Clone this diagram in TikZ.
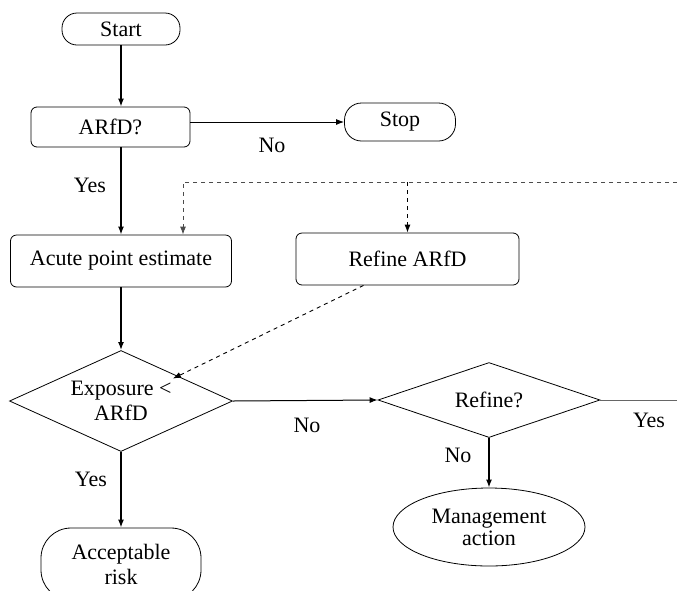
\documentclass[tikz,border=0pt]{standalone}
\usepackage{fontspec}
\setmainfont{Liberation Serif}
\usetikzlibrary{arrows.meta,positioning,shapes.geometric}

\begin{document}
\begin{tikzpicture}[
  x=1pt, y=-1pt,
  every node/.style={font=\fontsize{22}{25}\selectfont},
  term/.style={draw, line width=0.8pt, align=center, inner sep=0pt},
  proc/.style={draw, line width=0.8pt, rounded corners=6pt, align=center, inner sep=0pt},
  dec/.style={draw, line width=0.8pt, diamond, align=center, inner sep=0pt},
  flow/.style={-{Latex[length=8pt,width=6pt]}, line width=1.5pt},
  side/.style={-{Latex[length=8pt,width=6pt]}, line width=1pt},
  back/.style={-{Latex[length=8pt,width=6pt]}, line width=0.9pt, dash pattern=on 4pt off 4pt},
  lbl/.style={inner sep=0pt}
]
\useasboundingbox (0,0) rectangle (677,590);
\clip (0,0) rectangle (677,590);

\node[term, rounded corners=15pt, minimum width=118, minimum height=32] (start) at (121,29) {Start};
\node[proc, minimum width=159, minimum height=40] (arfd) at (110.5,127) {ARfD?};
\node[term, rounded corners=17pt, minimum width=111, minimum height=38] (stop) at (400,122) {Stop};
\node[proc, minimum width=221, minimum height=52] (acute) at (121,261) {Acute point estimate};
\node[proc, minimum width=223, minimum height=52] (refA) at (407.5,259) {Refine ARfD};
\node[dec, aspect=2.2, minimum width=223, minimum height=101] (expo) at (121,401) {Exposure <\\ARfD};
\node[dec, aspect=2.96, minimum width=222, minimum height=75] (refq) at (489,400) {Refine?};
\node[draw, line width=0.8pt, ellipse, align=center, inner sep=0pt, minimum width=192, minimum height=78,
  font=\fontsize{22}{22}\selectfont] (mgmt) at (489,527) {Management\\action};
\node[term, rounded corners=30pt, minimum width=160, minimum height=72] (accept) at (121,564) {Acceptable\\risk};
\coordinate (loop) at (677,182);

% labels
\node[lbl] (noA) at (272,145) {No};
\node[lbl] (yesA) at (90,185) {Yes};
\node[lbl] (noB) at (307,425) {No};
\node[lbl] (yesB) at (91,479) {Yes};
\node[lbl] (noC) at (458,455) {No};
\node[lbl] (yesC) at (649,420) {Yes};

% connectors
\draw[flow] (start.south) -- (start.south |- arfd.north);
\draw[side] (stop.west -| arfd.east) -- (stop.west);
\draw[flow] (acute.north |- arfd.south) -- (acute.north);
\draw[flow] (acute.south) -- (expo.north);
\draw[side] (expo.east) -- (refq.west);
\draw[flow] (expo.south) -- (accept.north);
\draw[flow] (refq.south) -- (mgmt.north);
\draw[line width=0.8pt, black!60] (refq.east) -- (refq.east -| loop);
\draw[back, black!70] (loop) -- ([xshift=62pt]acute.north |- loop) -- ([xshift=62pt]acute.north);
\draw[back] (refA.north |- loop) -- (refA.north);
\draw[back] ([xshift=-44pt]refA.south) -- ([xshift=-4pt,yshift=-3pt]expo.north east);
\end{tikzpicture}
\end{document}
